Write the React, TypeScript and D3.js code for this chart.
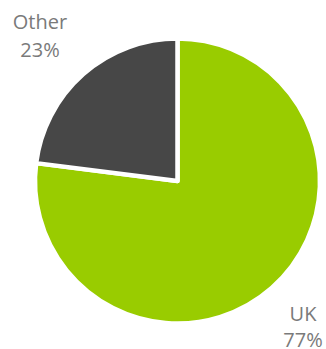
import React from "react";
import * as d3 from "d3";

const categories = ["UK", "Other"];
const values = [77, 23];
const colors = ["#99CC00", "#474747"];
const labels = ["77%", "23%"];

export default function App() {
  const width = 326;
  const height = 349;
  const cx = 177.5;
  const cy = 181;
  const r = 142.5;
  const pie = d3.pie<number>().sort(null).value((d) => d)(values);
  const arc = d3.arc<d3.PieArcDatum<number>>().innerRadius(0).outerRadius(r);
  const labelPos = [
    { x: 303, y: 321 },
    { x: 40, y: 29 },
  ];
  return (
    <svg
      width={width}
      height={height}
      style={{ position: "absolute", left: 0, top: 0 }}
    >
      <g transform={`translate(${cx},${cy})`}>
        {pie.map((p, i) => (
          <path
            key={categories[i]}
            d={arc(p) || ""}
            fill={colors[i]}
            stroke="#fff"
            strokeWidth={4.5}
            strokeLinejoin="round"
          />
        ))}
      </g>
      {categories.map((c, i) => (
        <text
          key={c}
          x={labelPos[i].x}
          y={labelPos[i].y}
          textAnchor="middle"
          fontFamily="'Open Sans', sans-serif"
          fontSize={20}
          fill="#7a7a7a"
        >
          <tspan x={labelPos[i].x}>{c}</tspan>
          <tspan x={labelPos[i].x} dy={i === 0 ? 26 : 28}>
            {labels[i]}
          </tspan>
        </text>
      ))}
    </svg>
  );
}
